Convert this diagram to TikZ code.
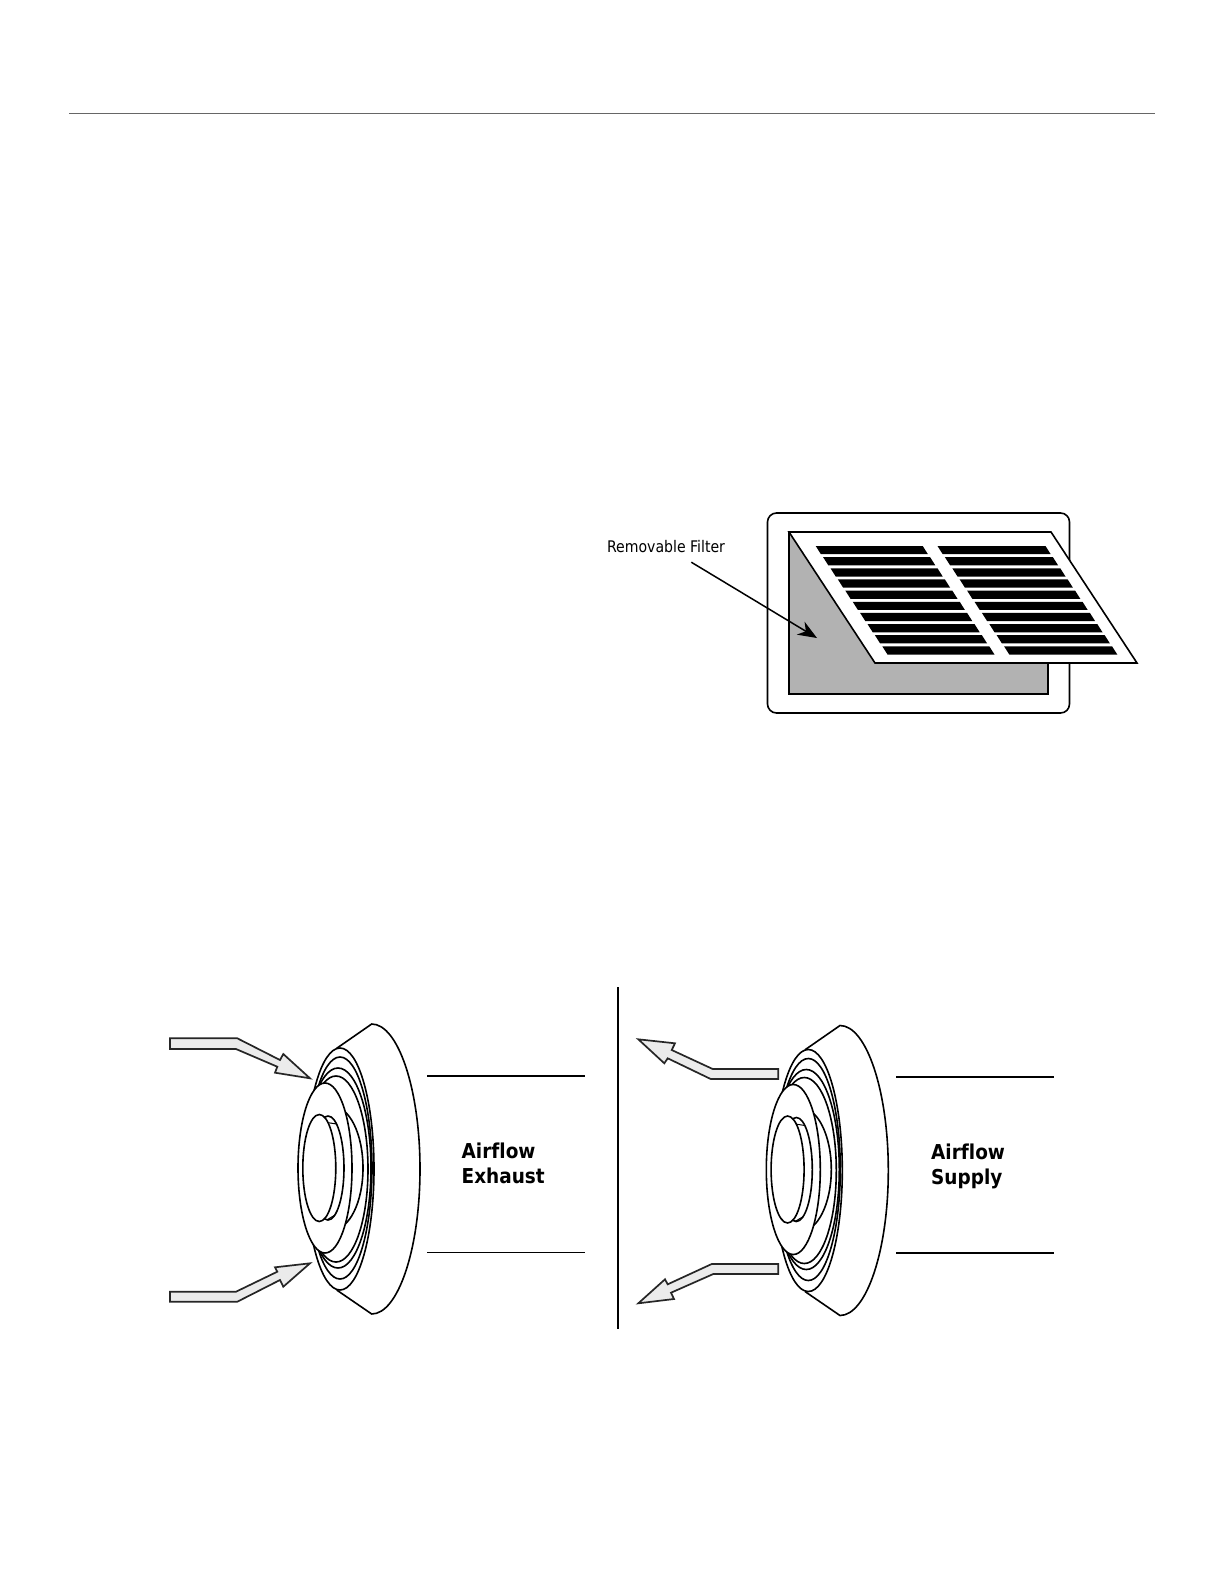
\documentclass[tikz,border=0pt]{standalone}
\usepackage{fontspec}
\setmainfont{DejaVu Sans}
\newfontfamily\flowfont{DejaVu Sans Bold}[FakeStretch=0.9,Ligatures=NoCommon]
\newfontfamily\filterfont{DejaVu Sans}[FakeStretch=0.88,Ligatures=NoCommon]
\usetikzlibrary{arrows.meta,positioning,calc}

% One round air grille, drawn back to front so each ring hides the one behind it
\newcommand{\airgrille}{%
    \draw[part] (336.7,1048.3) -- (371.7,1024)
        .. controls (398,1024) and (420,1089) .. (420,1169)
        .. controls (420,1249) and (398,1314) .. (371.7,1314) -- (336.7,1290);
    \draw[part] (340,1169) ellipse (34pt and 121pt);
    \draw[part] (340,1168) ellipse (32pt and 111pt);
    \draw[part] (338,1168) ellipse (33pt and 100pt);
    \draw[part] (336,1169) ellipse (32pt and 93pt);
    \draw[part] (332,1168) ellipse (31pt and 62pt);
    \draw[part] (325,1168) ellipse (27pt and 85pt);
    \draw[part] (328,1168) ellipse (16pt and 52pt);
    \draw[part] (319.3,1168) ellipse (16.5pt and 53.5pt);
    \draw[thin line] (328.3,1122.7) -- (336.7,1124);
    \draw[thin line] (326.7,1220) -- (335,1215);
}

\begin{document}
\begin{tikzpicture}[
        x=1pt, y=-1pt,
        font=\filterfont\fontsize{16}{18}\selectfont,
        part/.style={draw=black, fill=white, line width=1.6pt},
        thin line/.style={draw=black, line width=1pt},
        duct/.style={draw=black, line width=1.3pt},
        flow/.style={draw=black!85, fill=black!8, line width=1.7pt, line join=miter},
        slat/.style={fill=black},
        callout/.style={-{Stealth[length=19pt,width=15pt,inset=6pt]}, line width=1.5pt},
        flowlabel/.style={font=\flowfont\fontsize{20.5}{25}\selectfont, align=left, anchor=north west, inner sep=0pt}
    ]
\useasboundingbox (0,0) rectangle (1224,1584);
\fill[white] (0,0) rectangle (1224,1584);

% --- page rule ---
\coordinate (ruleleft) at (69,113);
\coordinate (ruleright) at (1155,113);
\draw[black!60, line width=0.8pt] (ruleleft) -- (ruleright);

% --- return grille with filter ---
\draw[line width=1.6pt, rounded corners=9pt] (767.5,513) rectangle (1069.5,713);
\draw[fill=black!30, line width=2.4pt] (789,532) rectangle (1048,694);
\draw[part] (789,532) -- (1051,532) -- (1137,663) -- (875,663) -- cycle;
\foreach \row in {0,...,9} {
    \fill[slat] ($(815.7,546)+(7.4*\row,11.15*\row)$) -- ++(107,0) -- ++(5.2,8.2) -- ++(-107,0) -- cycle;
    \fill[slat] ($(937.5,546)+(7.4*\row,11.15*\row)$) -- ++(108,0) -- ++(5.2,8.2) -- ++(-108,0) -- cycle;
}
\node[inner sep=0pt, minimum height=30pt] (filterlabel) at (666,547) {Removable Filter};
\coordinate (filtertip) at (817,638);
\draw[callout] (filterlabel.-31) -- (filtertip);

% --- airflow exhaust ---
\begin{scope}
    \airgrille
\end{scope}
\draw[duct] (427,1076) -- (585,1076);
\draw[duct] (427,1252.5) -- (585,1252.5);
\node[flowlabel] (exhaustlabel) at (461.5,1143) {Airflow\\Exhaust};
\draw[flow] (170,1038.3) -- (237.3,1038.3) -- (280,1060) -- (283.3,1054) -- (310,1078.3)
    -- (275,1072.7) -- (277.3,1066.7) -- (236,1049) -- (170,1049) -- cycle;
\draw[flow] (170,1291.7) -- (236,1291.7) -- (277.3,1271.7) -- (275,1267.3) -- (310,1263.3)
    -- (283.3,1286.7) -- (280,1280) -- (237.3,1301.7) -- (170,1301.7) -- cycle;

% --- divider ---
\coordinate (dividertop) at (618,987);
\coordinate (dividerbottom) at (618,1329);
\draw[line width=2.6pt] (dividertop) -- (dividerbottom);

% --- airflow supply ---
\begin{scope}[shift={(468.3,1.5)}]
    \airgrille
\end{scope}
\draw[duct] (896,1077) -- (1054,1077);
\draw[duct] (896,1253) -- (1054,1253);
\node[flowlabel] (supplylabel) at (931,1144) {Airflow\\Supply};
\draw[flow] (638.3,1039.3) -- (675,1043.3) -- (671.7,1050) -- (712.7,1069) -- (778.3,1069)
    -- (778.3,1079) -- (710.7,1079) -- (667.7,1058.3) -- (664.3,1063.3) -- cycle;
\draw[flow] (778.3,1264) -- (711.7,1264) -- (667.7,1284.3) -- (665,1279.3) -- (638.3,1303.3)
    -- (674,1299) -- (671,1292.7) -- (713.3,1274) -- (778.3,1274) -- cycle;
\end{tikzpicture}
\end{document}
